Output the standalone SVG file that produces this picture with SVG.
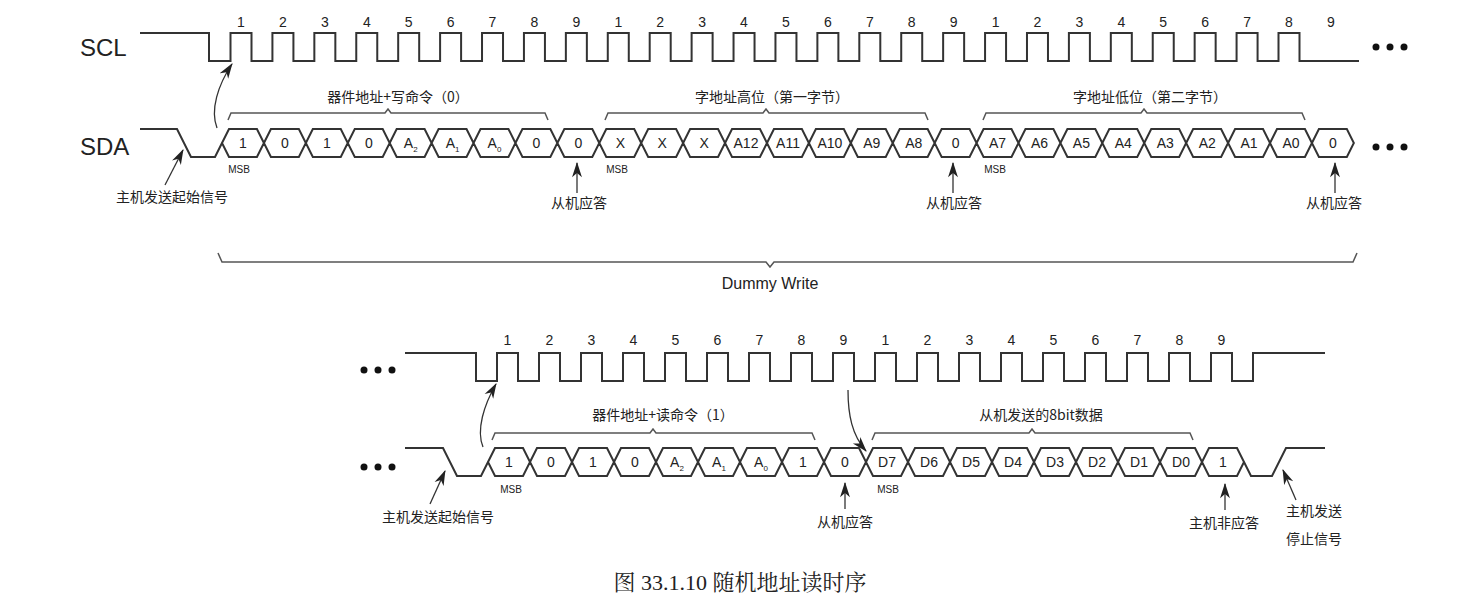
<svg xmlns="http://www.w3.org/2000/svg" width="1461" height="609" viewBox="0 0 1461 609">
<defs>
<marker id="ah" viewBox="0 0 10 10" refX="9" refY="5" markerWidth="9" markerHeight="9" markerUnits="userSpaceOnUse" orient="auto"><path d="M0,1 L10,5 L0,9 L3,5 z" fill="#222"/></marker>
<marker id="ahb" viewBox="0 0 14 10" refX="13" refY="5" markerWidth="16" markerHeight="11" markerUnits="userSpaceOnUse" orient="auto"><path d="M0,0.5 L14,5 L0,9.5 L4,5 z" fill="#222"/></marker>
</defs>
<style>
.w{fill:none;stroke:#333;stroke-width:2;stroke-linejoin:miter}
.br{fill:none;stroke:#555;stroke-width:1.5}
.ar{fill:none;stroke:#333;stroke-width:1.3}
text{font-family:"Liberation Sans","Noto Sans CJK SC",sans-serif;fill:#222}
.n{font-size:14px;text-anchor:middle}
.c{font-size:14px;text-anchor:middle}
.s{font-size:10px;text-anchor:middle}
.cj{font-family:"Noto Sans CJK SC",sans-serif;font-size:14px;text-anchor:middle}
.big{font-size:24px}
.dot{fill:#111}
</style>
<rect width="1461" height="609" fill="#fff"/>
<g id="top-signals">
<text class="big" x="80" y="56">SCL</text>
<text class="big" x="80" y="155">SDA</text>
<path class="w" d="M140,33 H209 V61 H230.5 V33 h21 v28 h20.92 v-28 h21 v28 h20.92 v-28 h21 v28 h20.92 v-28 h21 v28 h20.92 v-28 h21 v28 h20.92 v-28 h21 v28 h20.92 v-28 h21 v28 h20.92 v-28 h21 v28 h20.92 v-28 h21 v28 h20.92 v-28 h21 v28 h20.92 v-28 h21 v28 h20.92 v-28 h21 v28 h20.92 v-28 h21 v28 h20.92 v-28 h21 v28 h20.92 v-28 h21 v28 h20.92 v-28 h21 v28 h20.92 v-28 h21 v28 h20.92 v-28 h21 v28 h20.92 v-28 h21 v28 h20.92 v-28 h21 v28 h20.92 v-28 h21 v28 h20.92 v-28 h21 v28 h20.92 v-28 h21 v28 h20.92 v-28 h21 v28 h20.92 v-28 h21 v28 h20.92 v-28 h21 v28 H1359"/>
<path class="w" d="M140,129 H177 L191,157 H215 L222,143"/>
<path class="w" d="M222,143 l7,-14 h27.92 l7,14 l-7,14 h-27.92 z m41.92,0 l7,-14 h27.92 l7,14 l-7,14 h-27.92 z m41.92,0 l7,-14 h27.92 l7,14 l-7,14 h-27.92 z m41.92,0 l7,-14 h27.92 l7,14 l-7,14 h-27.92 z m41.92,0 l7,-14 h27.92 l7,14 l-7,14 h-27.92 z m41.92,0 l7,-14 h27.92 l7,14 l-7,14 h-27.92 z m41.92,0 l7,-14 h27.92 l7,14 l-7,14 h-27.92 z m41.92,0 l7,-14 h27.92 l7,14 l-7,14 h-27.92 z m41.92,0 l7,-14 h27.92 l7,14 l-7,14 h-27.92 z m41.92,0 l7,-14 h27.92 l7,14 l-7,14 h-27.92 z m41.92,0 l7,-14 h27.92 l7,14 l-7,14 h-27.92 z m41.92,0 l7,-14 h27.92 l7,14 l-7,14 h-27.92 z m41.92,0 l7,-14 h27.92 l7,14 l-7,14 h-27.92 z m41.92,0 l7,-14 h27.92 l7,14 l-7,14 h-27.92 z m41.92,0 l7,-14 h27.92 l7,14 l-7,14 h-27.92 z m41.92,0 l7,-14 h27.92 l7,14 l-7,14 h-27.92 z m41.92,0 l7,-14 h27.92 l7,14 l-7,14 h-27.92 z m41.92,0 l7,-14 h27.92 l7,14 l-7,14 h-27.92 z m41.92,0 l7,-14 h27.92 l7,14 l-7,14 h-27.92 z m41.92,0 l7,-14 h27.92 l7,14 l-7,14 h-27.92 z m41.92,0 l7,-14 h27.92 l7,14 l-7,14 h-27.92 z m41.92,0 l7,-14 h27.92 l7,14 l-7,14 h-27.92 z m41.92,0 l7,-14 h27.92 l7,14 l-7,14 h-27.92 z m41.92,0 l7,-14 h27.92 l7,14 l-7,14 h-27.92 z m41.92,0 l7,-14 h27.92 l7,14 l-7,14 h-27.92 z m41.92,0 l7,-14 h27.92 l7,14 l-7,14 h-27.92 z m41.92,0 l7,-14 h27.92 l7,14 l-7,14 h-27.92 z"/>
<circle class="dot" cx="1376" cy="47" r="3.5"/><circle class="dot" cx="1390" cy="47" r="3.5"/><circle class="dot" cx="1404" cy="47" r="3.5"/>
<circle class="dot" cx="1376" cy="147" r="3.5"/><circle class="dot" cx="1390" cy="147" r="3.5"/><circle class="dot" cx="1404" cy="147" r="3.5"/>
<g class="n">
<text x="241" y="27">1</text><text x="282.9" y="27">2</text><text x="324.8" y="27">3</text><text x="366.8" y="27">4</text><text x="408.7" y="27">5</text><text x="450.6" y="27">6</text><text x="492.5" y="27">7</text><text x="534.4" y="27">8</text><text x="576.4" y="27">9</text>
<text x="618.3" y="27">1</text><text x="660.2" y="27">2</text><text x="702.1" y="27">3</text><text x="744" y="27">4</text><text x="786" y="27">5</text><text x="827.9" y="27">6</text><text x="869.8" y="27">7</text><text x="911.7" y="27">8</text><text x="953.6" y="27">9</text>
<text x="995.6" y="27">1</text><text x="1037.5" y="27">2</text><text x="1079.4" y="27">3</text><text x="1121.3" y="27">4</text><text x="1163.2" y="27">5</text><text x="1205.2" y="27">6</text><text x="1247.1" y="27">7</text><text x="1289" y="27">8</text><text x="1330.9" y="27">9</text>
</g>
<g class="c">
<text x="243" y="148">1</text><text x="284.9" y="148">0</text><text x="326.8" y="148">1</text><text x="368.8" y="148">0</text>
<text x="410.7" y="148">A<tspan font-size="8" dy="4">2</tspan></text><text x="452.6" y="148">A<tspan font-size="8" dy="4">1</tspan></text><text x="494.5" y="148">A<tspan font-size="8" dy="4">0</tspan></text>
<text x="536.4" y="148">0</text><text x="578.4" y="148">0</text>
<text x="620.3" y="148">X</text><text x="662.2" y="148">X</text><text x="704.1" y="148">X</text><text x="746" y="148">A12</text><text x="788" y="148">A11</text><text x="829.9" y="148">A10</text><text x="871.8" y="148">A9</text><text x="913.7" y="148">A8</text><text x="955.6" y="148">0</text>
<text x="997.6" y="148">A7</text><text x="1039.5" y="148">A6</text><text x="1081.4" y="148">A5</text><text x="1123.3" y="148">A4</text><text x="1165.2" y="148">A3</text><text x="1207.2" y="148">A2</text><text x="1249.1" y="148">A1</text><text x="1291" y="148">A0</text><text x="1332.9" y="148">0</text>
</g>
<g class="s"><text x="239" y="173">MSB</text><text x="617" y="173">MSB</text><text x="995" y="173">MSB</text></g>
</g>
<g id="top-braces">
<path class="br" d="M228,120 L231,113 H385 L388,109 L391,113 H545 L548,120"/>
<path class="br" d="M605,120 L608,113 H763 L766,109 L769,113 H925 L928,120"/>
<path class="br" d="M983,120 L986,113 H1141 L1144,109 L1147,113 H1302 L1305,120"/>
<text class="cj" x="398" y="102">器件地址+写命令（0）</text>
<text class="cj" x="772" y="102">字地址高位（第一字节）</text>
<text class="cj" x="1150" y="102">字地址低位（第二字节）</text>
<path class="br" d="M218,253 L222,262 H766 L770,267 L774,262 H1353 L1357,253"/>
<text x="770" y="289" style="font-size:16px;text-anchor:middle">Dummy Write</text>
</g>
<g id="bottom-signals">
<circle class="dot" cx="364" cy="370" r="3.5"/><circle class="dot" cx="378" cy="370" r="3.5"/><circle class="dot" cx="392" cy="370" r="3.5"/>
<circle class="dot" cx="364" cy="467" r="3.5"/><circle class="dot" cx="378" cy="467" r="3.5"/><circle class="dot" cx="392" cy="467" r="3.5"/>
<path class="w" d="M405,353 H476 V381 H497 V353 h21 v28 h21 v-28 h21 v28 h21 v-28 h21 v28 h21 v-28 h21 v28 h21 v-28 h21 v28 h21 v-28 h21 v28 h21 v-28 h21 v28 h21 v-28 h21 v28 h21 v-28 h21 v28 h21 v-28 h21 v28 h21 v-28 h21 v28 h21 v-28 h21 v28 h21 v-28 h21 v28 h21 v-28 h21 v28 h21 v-28 h21 v28 h21 v-28 h21 v28 h21 v-28 h21 v28 h21 v-28 h21 v28 h21 v-28 H1325"/>
<path class="w" d="M405,448 H443 L457,476 H481 L488,462"/>
<path class="w" d="M488,462 l7,-14 h28 l7,14 l-7,14 h-28 z m42,0 l7,-14 h28 l7,14 l-7,14 h-28 z m42,0 l7,-14 h28 l7,14 l-7,14 h-28 z m42,0 l7,-14 h28 l7,14 l-7,14 h-28 z m42,0 l7,-14 h28 l7,14 l-7,14 h-28 z m42,0 l7,-14 h28 l7,14 l-7,14 h-28 z m42,0 l7,-14 h28 l7,14 l-7,14 h-28 z m42,0 l7,-14 h28 l7,14 l-7,14 h-28 z m42,0 l7,-14 h28 l7,14 l-7,14 h-28 z m42,0 l7,-14 h28 l7,14 l-7,14 h-28 z m42,0 l7,-14 h28 l7,14 l-7,14 h-28 z m42,0 l7,-14 h28 l7,14 l-7,14 h-28 z m42,0 l7,-14 h28 l7,14 l-7,14 h-28 z m42,0 l7,-14 h28 l7,14 l-7,14 h-28 z m42,0 l7,-14 h28 l7,14 l-7,14 h-28 z m42,0 l7,-14 h28 l7,14 l-7,14 h-28 z m42,0 l7,-14 h28 l7,14 l-7,14 h-28 z m42,0 l7,-14 h28 l7,14 l-7,14 h-28 z"/>
<path class="w" d="M1244,462 L1251,476 H1272 L1286,448 H1325"/>
<g class="n">
<text x="507.5" y="345">1</text><text x="549.5" y="345">2</text><text x="591.5" y="345">3</text><text x="633.5" y="345">4</text><text x="675.5" y="345">5</text><text x="717.5" y="345">6</text><text x="759.5" y="345">7</text><text x="801.5" y="345">8</text><text x="843.5" y="345">9</text>
<text x="885.5" y="345">1</text><text x="927.5" y="345">2</text><text x="969.5" y="345">3</text><text x="1011.5" y="345">4</text><text x="1053.5" y="345">5</text><text x="1095.5" y="345">6</text><text x="1137.5" y="345">7</text><text x="1179.5" y="345">8</text><text x="1221.5" y="345">9</text>
</g>
<g class="c">
<text x="509" y="467">1</text><text x="551" y="467">0</text><text x="593" y="467">1</text><text x="635" y="467">0</text>
<text x="677" y="467">A<tspan font-size="8" dy="4">2</tspan></text><text x="719" y="467">A<tspan font-size="8" dy="4">1</tspan></text><text x="761" y="467">A<tspan font-size="8" dy="4">0</tspan></text>
<text x="803" y="467">1</text><text x="845" y="467">0</text>
<text x="887" y="467">D7</text><text x="929" y="467">D6</text><text x="971" y="467">D5</text><text x="1013" y="467">D4</text><text x="1055" y="467">D3</text><text x="1097" y="467">D2</text><text x="1139" y="467">D1</text><text x="1181" y="467">D0</text><text x="1223" y="467">1</text>
</g>
<g class="s"><text x="511" y="493">MSB</text><text x="888" y="493">MSB</text></g>
</g>
<g id="bottom-braces">
<path class="br" d="M492,440 L495,433 H650 L653,429 L656,433 H812 L815,440"/>
<path class="br" d="M872,440 L875,433 H1029 L1032,429 L1035,433 H1190 L1193,440"/>
<text class="cj" x="663" y="420">器件地址+读命令（1）</text>
<text class="cj" x="1041" y="420">从机发送的8bit数据</text>
</g>
<g id="annotations">
<text class="cj" x="172" y="202">主机发送起始信号</text>
<text class="cj" x="579" y="208">从机应答</text>
<text class="cj" x="954" y="208">从机应答</text>
<text class="cj" x="1334" y="208">从机应答</text>
<text class="cj" x="438" y="522">主机发送起始信号</text>
<text class="cj" x="845" y="527">从机应答</text>
<text class="cj" x="1224" y="528">主机非应答</text>
<text class="cj" x="1314" y="516">主机发送</text>
<text class="cj" x="1314" y="544">停止信号</text>
<text x="740" y="590" style="font-family:'Liberation Serif','Noto Serif CJK SC','Noto Sans CJK SC',serif;font-size:22px;text-anchor:middle">图  33.1.10  随机地址读时序</text>
</g>
<g id="connectors">
<path class="ar" d="M165,185 L183,150" marker-end="url(#ahb)"/>
<path class="ar" d="M217,128 C210,110 218,85 232,64" marker-end="url(#ahb)"/>
<path class="ar" d="M577,193 L577,163" marker-end="url(#ahb)"/>
<path class="ar" d="M953,193 L953,163" marker-end="url(#ahb)"/>
<path class="ar" d="M1335,193 L1335,163" marker-end="url(#ahb)"/>
<path class="ar" d="M430,504 L445,471" marker-end="url(#ahb)"/>
<path class="ar" d="M483,447 C476,430 484,405 496,384" marker-end="url(#ahb)"/>
<path class="ar" d="M845,509 L845,483" marker-end="url(#ahb)"/>
<path class="ar" d="M848,390 C848,415 852,435 866,451" marker-end="url(#ahb)"/>
<path class="ar" d="M1225,510 L1225,484" marker-end="url(#ahb)"/>
<path class="ar" d="M1296,500 L1283,470" marker-end="url(#ahb)"/>
</g>
</svg>
